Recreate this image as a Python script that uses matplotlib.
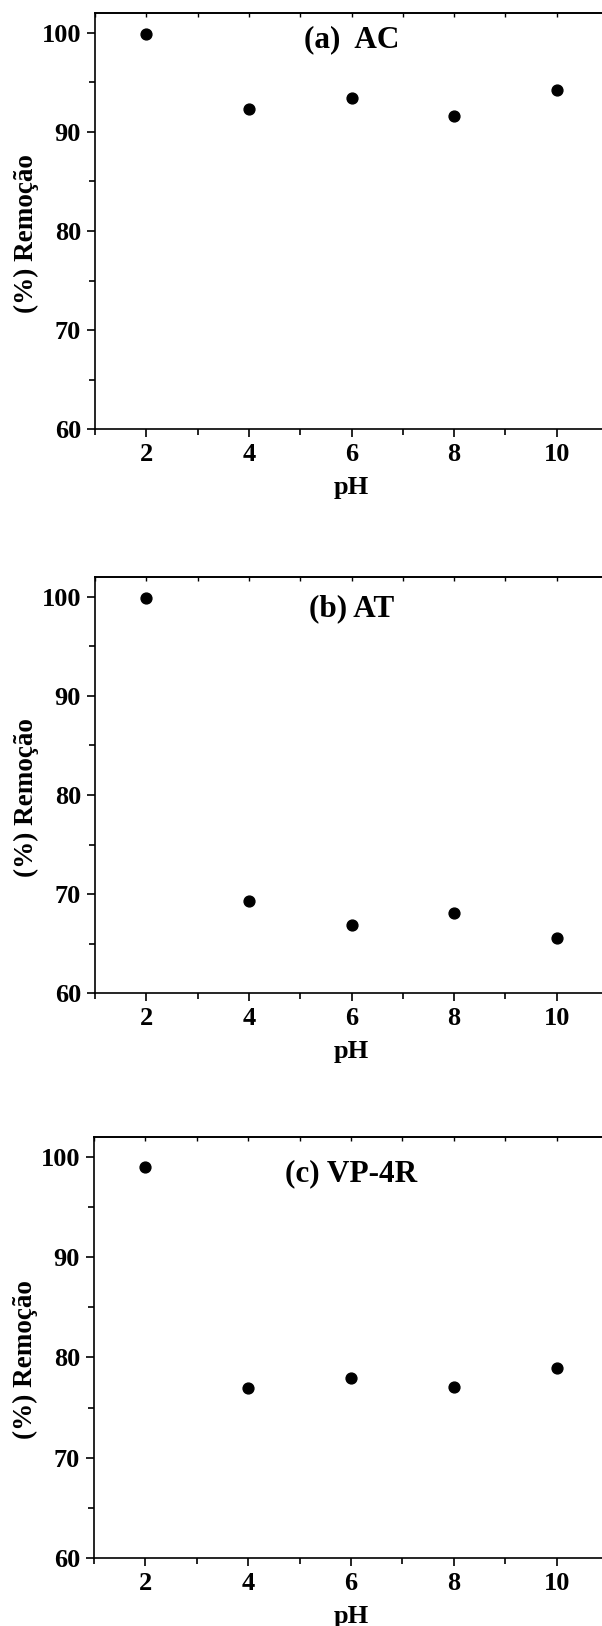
import matplotlib
matplotlib.use('Agg')
import matplotlib.pyplot as plt
from matplotlib.ticker import MultipleLocator

plt.rcParams['font.family'] = 'Liberation Serif'
plt.rcParams['font.weight'] = 'bold'
plt.rcParams['axes.labelweight'] = 'bold'

# pH values shared by all three panels
ph = [2, 4, 6, 8, 10]

# % remocao per adsorbate
rem_ac = [99.9, 92.3, 93.4, 91.6, 94.2]
rem_at = [99.9, 69.35, 66.85, 68.05, 65.55]
rem_vp = [99.0, 76.9, 77.97, 77.0, 78.95]

titles = ['(a)  AC', '(b) AT', '(c) VP-4R']
series = [rem_ac, rem_at, rem_vp]

xticks = [2, 4, 6, 8, 10]
yticks = [60, 70, 80, 90, 100]

W, H = 602, 1626
fig = plt.figure(figsize=(W / 100, H / 100), dpi=100)

# axes boxes in pixels: left, top, bottom (right edge runs off the image)
boxes = [(95, 12.7, 429.3), (95, 576.7, 993.3), (94, 1136.7, 1558)]
title_y = [99.3, 98.8, 98.3]   # title height in data units
right_px = 608

lw = 1.2
for i in range(3):
    left, top, bot = boxes[i]
    ax = fig.add_axes([left / W, 1 - bot / H, (right_px - left) / W, (bot - top) / H])
    ax.plot(ph, series[i], 'o', color='black', markersize=7.8, linestyle='none')

    ax.set_xlim(1, 11)
    ax.set_ylim(60, 102)
    ax.set_xticks(xticks)
    ax.set_yticks(yticks)
    ax.xaxis.set_minor_locator(MultipleLocator(1))
    ax.yaxis.set_minor_locator(MultipleLocator(5))

    for s in ax.spines.values():
        s.set_linewidth(lw)

    ax.tick_params(axis='both', which='major', direction='out', length=6, width=lw,
                   labelsize=19, pad=4)
    ax.tick_params(axis='both', which='minor', direction='out', length=4, width=lw)

    # small inward ticks along the top spine
    top_ax = ax.secondary_xaxis('top')
    top_ax.set_xticks(range(1, 12))
    top_ax.set_xticklabels([])
    top_ax.tick_params(direction='in', length=3, width=1.0)
    top_ax.spines['top'].set_linewidth(lw)

    ax.set_xlabel('pH', fontsize=19, fontweight='bold', labelpad=7)
    ax.set_ylabel('(%) Remoção', fontsize=19.5, fontweight='bold')
    ax.yaxis.set_label_coords(-0.109, 0.47)

    ax.text(6, title_y[i], titles[i], fontsize=22.5,
            fontweight='bold', ha='center', va='center')

fig.savefig('out.png', dpi=100)
plt.close()
